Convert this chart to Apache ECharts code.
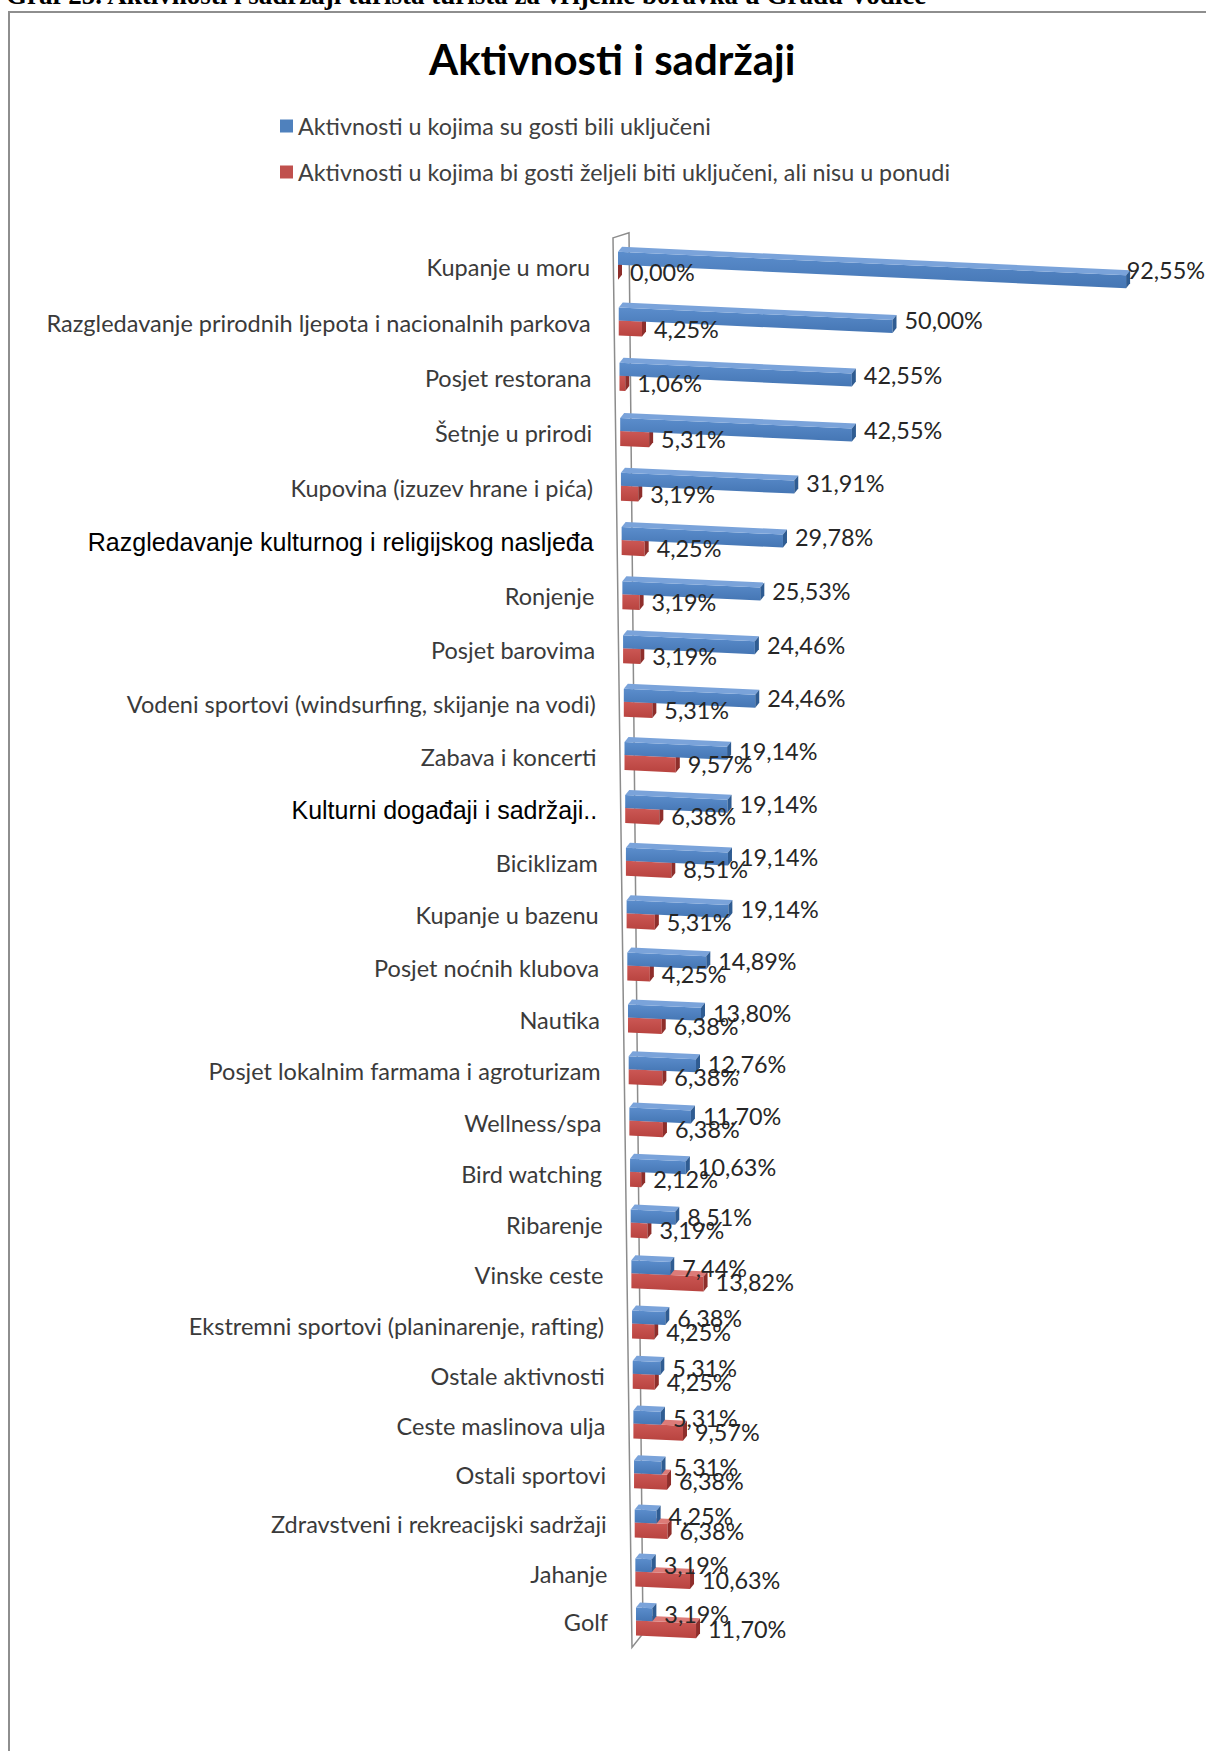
<!DOCTYPE html>
<html>
<head>
<meta charset="utf-8">
<script src="https://cdn.jsdelivr.net/npm/echarts@6/dist/echarts.min.js"></script>
<style>
  html, body { margin: 0; padding: 0; width: 1206px; height: 1751px; overflow: hidden; background: #fff; }
  #caption { position: absolute; left: 6px; top: -18px; font: bold 27px/27px "Liberation Serif", "Times New Roman", serif; color: #000; white-space: nowrap; }
  #frame { position: absolute; left: 8px; top: 11px; width: 1400px; height: 2000px; border-left: 2px solid #8e8e8e; border-top: 2px solid #8e8e8e; }
  #chart { position: absolute; left: 0; top: 0; width: 1206px; height: 1751px; }
</style>
</head>
<body>
<div id="caption">Graf 25. Aktivnosti i sadržaji turista turista za vrijeme boravka u Gradu Vodice</div>
<div id="frame"></div>
<div id="chart"></div>
<script>
// Activities, top to bottom
const categories = [
  'Kupanje u moru',
  'Razgledavanje prirodnih ljepota i nacionalnih parkova',
  'Posjet restorana',
  'Šetnje u prirodi',
  'Kupovina (izuzev hrane i pića)',
  'Razgledavanje kulturnog i religijskog nasljeđa',
  'Ronjenje',
  'Posjet barovima',
  'Vodeni sportovi (windsurfing, skijanje na vodi)',
  'Zabava i koncerti',
  'Kulturni događaji i sadržaji..',
  'Biciklizam',
  'Kupanje u bazenu',
  'Posjet noćnih klubova',
  'Nautika',
  'Posjet lokalnim farmama i agroturizam',
  'Wellness/spa',
  'Bird watching',
  'Ribarenje',
  'Vinske ceste',
  'Ekstremni sportovi (planinarenje, rafting)',
  'Ostale aktivnosti',
  'Ceste maslinova ulja',
  'Ostali sportovi',
  'Zdravstveni i rekreacijski sadržaji',
  'Jahanje',
  'Golf'
];

// Share of guests (%) who took part in the activity
const participated = [92.55, 50.00, 42.55, 42.55, 31.91, 29.78, 25.53, 24.46, 24.46, 19.14,
  19.14, 19.14, 19.14, 14.89, 13.80, 12.76, 11.70, 10.63, 8.51, 7.44,
  6.38, 5.31, 5.31, 5.31, 4.25, 3.19, 3.19];

// Share of guests (%) who would like the activity but it is not offered
const wanted = [0.00, 4.25, 1.06, 5.31, 3.19, 4.25, 3.19, 3.19, 5.31, 9.57,
  6.38, 8.51, 5.31, 4.25, 6.38, 6.38, 6.38, 2.12, 3.19, 13.82,
  4.25, 4.25, 9.57, 6.38, 6.38, 10.63, 11.70];

const seriesNames = [
  'Aktivnosti u kojima su gosti bili uključeni',
  'Aktivnosti u kojima bi gosti željeli biti uključeni, ali nisu u ponudi'
];

// Category names typeset in a different face in the source workbook
const altFaceCategories = ['Razgledavanje kulturnog i religijskog nasljeđa', 'Kulturni događaji i sadržaji..'];

const SANS = 'Lato, "Open Sans", sans-serif';
const VALUE_FONT_SIZE = 23.4;

// 3D view: rows recede with depth, bars tilt down toward their far end,
// the value-zero wall drifts right going down.
const DEPTH = 0.07;
const TILT = 0.046;
const DRIFT = 18;
const DX = 4, DY = 5;

function place(api, value, row) {
  const first = api.coord([0, 0]);
  const last = api.coord([0, categories.length - 1]);
  const base = api.coord([0, row]);
  const end = api.coord([value, row]);
  const t = (base[1] - first[1]) / (last[1] - first[1]);
  const w = 1 + DEPTH * t;
  const p = t * (1 + DEPTH) / w;
  return {
    x: base[0] + DRIFT * p,
    y: first[1] + (last[1] - first[1]) * p,
    len: (end[0] - base[0]) / w
  };
}

function pct(v) {
  return v.toFixed(2).replace('.', ',') + '%';
}

// width of a value label, used to keep labels inside the chart
const measureCtx = document.createElement('canvas').getContext('2d');
function labelWidth(text) {
  measureCtx.font = VALUE_FONT_SIZE + 'px ' + SANS;
  return measureCtx.measureText(text).width;
}

function barRenderer(look) {
  return function (params, api) {
    const v = api.value(0);
    const row = api.value(1);
    const g = place(api, v, row);
    const x0 = g.x, x1 = g.x + g.len;
    const drop = g.len * TILT;
    const t0 = g.y + look.offset, b0 = t0 + look.height;
    const t1 = t0 + drop, b1 = b0 + drop;
    const text = pct(v);
    const labelX = Math.min(x1 + DX + 8, api.getWidth() - labelWidth(text) - 1);
    return {
      type: 'group',
      children: [
        {
          type: 'polygon',
          shape: { points: [[x0, t0], [x1, t1], [x1, b1], [x0, b0]] },
          style: {
            fill: new echarts.graphic.LinearGradient(0, 0, 0, 1, [
              { offset: 0, color: look.frontLight },
              { offset: 1, color: look.frontDark }
            ])
          }
        },
        {
          type: 'polygon',
          shape: { points: [[x0, t0], [x1, t1], [x1 + DX, t1 - DY], [x0 + DX, t0 - DY]] },
          style: { fill: look.top }
        },
        {
          type: 'polygon',
          shape: { points: [[x1, t1], [x1 + DX, t1 - DY], [x1 + DX, b1 - DY], [x1, b1]] },
          style: { fill: look.side }
        },
        {
          type: 'text',
          z2: 100,
          style: {
            text: text,
            x: labelX,
            y: (t0 + b0) / 2 + drop / 2,
            align: 'left',
            verticalAlign: 'middle',
            fontFamily: SANS,
            fontSize: VALUE_FONT_SIZE,
            fill: '#262626'
          }
        }
      ]
    };
  };
}

const blueLook = { offset: -15, height: 13, frontLight: '#5b8dcc', frontDark: '#4576b4', top: '#7aa3da', side: '#2f5c92' };
const redLook = { offset: -2, height: 15, frontLight: '#cc5855', frontDark: '#b8433f', top: '#dc7b78', side: '#8e2e2b' };

const chart = echarts.init(document.getElementById('chart'), null, { renderer: 'svg' });

chart.setOption({
  animation: false,
  backgroundColor: 'transparent',
  graphic: [{
    type: 'text',
    left: 611 - 182,
    top: 38,
    style: {
      text: 'Aktivnosti i sadržaji',
      fontFamily: SANS,
      fontWeight: 'bold',
      fontSize: 42,
      fill: '#000'
    }
  }],
  legend: {
    data: seriesNames,
    orient: 'vertical',
    left: 275,
    top: 109,
    itemWidth: 13,
    itemHeight: 13,
    itemGap: 22,
    icon: 'rect',
    selectedMode: false,
    textStyle: { fontFamily: SANS, fontSize: 23.3, color: '#404040', lineHeight: 24 }
  },
  grid: { left: 618, width: 549, top: 240.8, height: 1407.7 },
  xAxis: { type: 'value', min: 0, max: 100, show: false },
  yAxis: { type: 'category', data: categories, inverse: true, show: false },
  series: [
    {
      // side wall of the plot and the category names along it
      name: 'wall',
      type: 'custom',
      silent: true,
      data: categories.map((c, i) => [0, i]),
      encode: { x: 0, y: 1 },
      renderItem: function (params, api) {
        const row = api.value(1);
        const g = place(api, 0, row);
        const name = categories[row];
        const alt = altFaceCategories.indexOf(name) >= 0;
        const children = [{
          type: 'text',
          style: {
            text: name,
            x: g.x - 28,
            y: g.y,
            align: 'right',
            verticalAlign: 'middle',
            fontFamily: alt ? '"Liberation Sans", Arial, sans-serif' : SANS,
            fontSize: alt ? 25 : 23.5,
            fill: alt ? '#000' : '#3a3a3a'
          }
        }];
        if (row === 0) {
          const top = g;
          const bottom = place(api, 0, categories.length - 1);
          children.unshift({
            type: 'polygon',
            shape: {
              points: [
                [top.x - 5, top.y - 29], [top.x + 11, top.y - 34],
                [bottom.x + 7, bottom.y + 11], [bottom.x - 4, bottom.y + 25]
              ]
            },
            style: { fill: '#fff', stroke: '#8c8c8c', lineWidth: 1.5 }
          });
        }
        return { type: 'group', children: children };
      },
      z: 1
    },
    {
      name: seriesNames[1],
      type: 'custom',
      itemStyle: { color: '#C0504D' },
      data: wanted.map((v, i) => [v, i]),
      encode: { x: 0, y: 1 },
      renderItem: barRenderer(redLook),
      z: 2
    },
    {
      name: seriesNames[0],
      type: 'custom',
      itemStyle: { color: '#4F81BD' },
      data: participated.map((v, i) => [v, i]),
      encode: { x: 0, y: 1 },
      renderItem: barRenderer(blueLook),
      z: 2
    }
  ]
});
</script>
</body>
</html>
